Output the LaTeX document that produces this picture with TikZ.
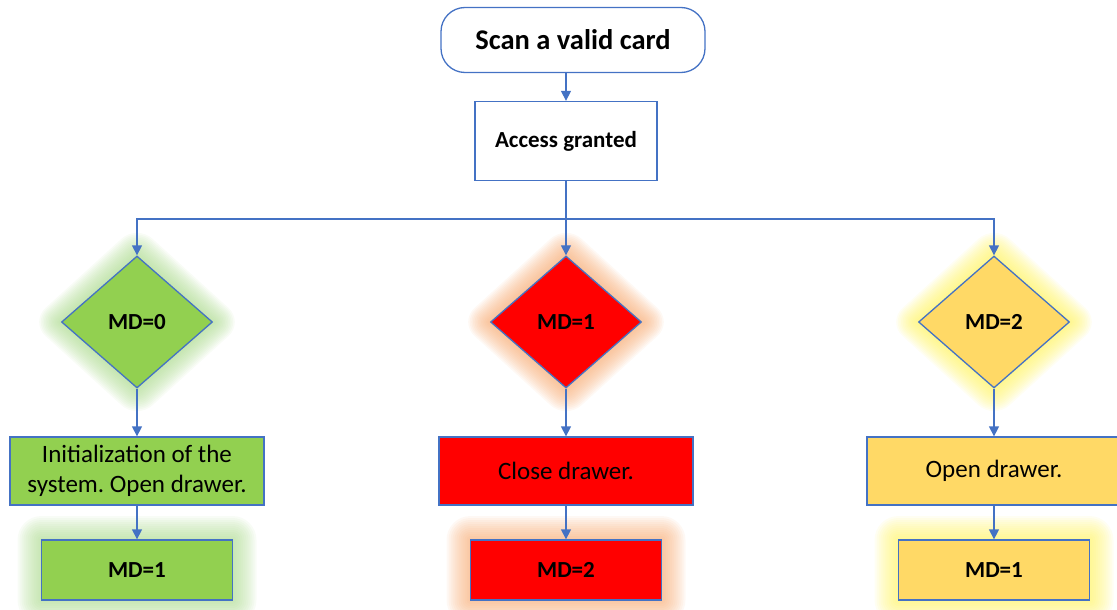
\documentclass[tikz,border=0pt]{standalone}
\usepackage{fontspec}
\setmainfont{Carlito}
\frenchspacing
\usetikzlibrary{arrows.meta,shapes.geometric,backgrounds}

\definecolor{lineblue}{HTML}{4472C4}
\definecolor{mdgreen}{HTML}{92D050}
\definecolor{mdred}{HTML}{FF0000}
\definecolor{mdyellow}{HTML}{FFD966}
\definecolor{glowgreen}{HTML}{A9D98A}
\definecolor{gloworange}{HTML}{F7A86E}
\definecolor{glowyellow}{HTML}{FFF35A}

\begin{document}
\begin{tikzpicture}[x=1pt,y=-1pt,>={Triangle[width=10pt,length=10pt]},
    line width=1.3pt,
    start/.style={draw=lineblue,rectangle,rounded corners=24pt,minimum width=264pt,
        minimum height=65pt,font=\fontsize{28.5}{34}\selectfont\bfseries},
    plain/.style={draw=lineblue,rectangle,minimum width=182pt,minimum height=79pt,
        font=\fontsize{23}{28}\selectfont\bfseries},
    decision/.style={draw=lineblue,diamond,inner sep=0pt,minimum width=151pt,
        minimum height=132pt,font=\fontsize{23}{28}\selectfont\bfseries},
    action/.style={draw=lineblue,rectangle,align=center,minimum width=254pt,
        minimum height=68pt,font=\fontsize{25}{30}\selectfont},
    result/.style={draw=lineblue,rectangle,minimum width=191pt,minimum height=60pt,
        font=\fontsize{23}{28}\selectfont\bfseries},
    link/.style={->,color=lineblue,line width=1.3pt}]
    \useasboundingbox (0,0) rectangle (1117,610);

    \node[start] (scan) at (573,40) {Scan a valid card};
    \node[plain] (access) at (566,141) {Access granted};
    \coordinate (split) at (566,219);

    \node[decision,fill=mdgreen] (d0) at (137,322) {MD=0};
    \node[decision,fill=mdred] (d1) at (566,322) {MD=1};
    \node[decision,fill=mdyellow] (d2) at (994,322) {MD=2};

    \node[action,fill=mdgreen] (a0) at (137,471) {Initialization of the\\system. Open drawer.};
    \node[action,fill=mdred] (a1) at (566,471) {Close drawer.};
    \node[action,fill=mdyellow] (a2) at (994,471) {Open drawer.};

    \node[result,fill=mdgreen] (r0) at (137,570) {MD=1};
    \node[result,fill=mdred] (r1) at (566,570) {MD=2};
    \node[result,fill=mdyellow] (r2) at (994,570) {MD=1};

    % soft glow behind the coloured shapes
    \begin{scope}[on background layer]
        \foreach \n/\c in {d0/glowgreen,d1/gloworange,d2/glowyellow}
            \foreach \i in {1,...,14}
                \node[diamond,fill=\c,opacity=0.075,inner sep=0pt,rounded corners={1.5*\i},
                    minimum width={151+4.5*\i},minimum height={132+4.5*\i}] at (\n) {};
        \foreach \n/\c in {r0/glowgreen,r1/gloworange,r2/glowyellow}
            \foreach \i in {1,...,12}
                \node[rectangle,fill=\c,opacity=0.08,rounded corners={2*\i},
                    minimum width={191+4*\i},minimum height={60+4*\i}] at (\n) {};
    \end{scope}

    \draw[link] (scan.south -| access.north) -- (access.north);
    \path[link] (access) edge (d1);
    \draw[link] (split) -| (d0.north);
    \draw[link] (split) -| (d2.north);
    \path[link] (d0) edge (a0);
    \path[link] (d1) edge (a1);
    \path[link] (d2) edge (a2);
    \path[link] (a0) edge (r0);
    \path[link] (a1) edge (r1);
    \path[link] (a2) edge (r2);
\end{tikzpicture}
\end{document}
